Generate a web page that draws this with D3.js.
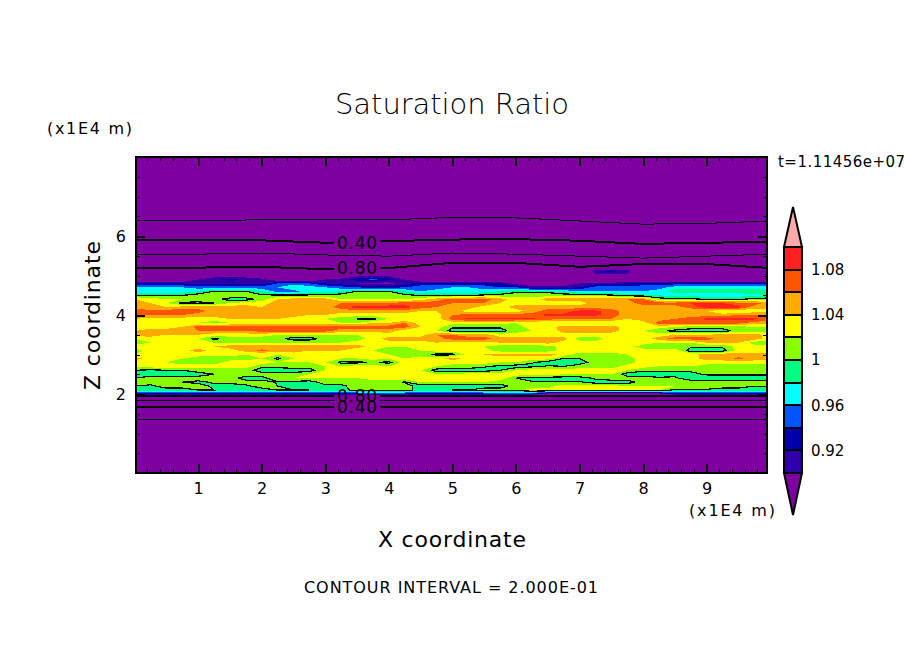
<!DOCTYPE html>
<html>
<head>
<meta charset="utf-8">
<title>Saturation Ratio</title>
<script src="https://cdn.jsdelivr.net/npm/d3@7"></script>
<style>
    html, body { margin: 0; padding: 0; background: #fff; overflow: hidden; }
    text { font-family: "DejaVu Sans", sans-serif; fill: #000; }
</style>
</head>
<body>
<svg id="chart"></svg>
<script>
// field grid: x in 1E4 m every 0.25, z in 1E4 m every 0.1, top row first
var fieldX = d3.range(41).map(function(k) { return k * 0.25; });
var fieldZ = [5.1, 5.0, 4.9, 4.8, 4.7, 4.6, 4.5, 4.4, 4.3, 4.2, 4.1, 4.0, 3.9, 3.8, 3.7, 3.6, 3.5,
    3.4, 3.3, 3.2, 3.1, 3.0, 2.9, 2.8, 2.7, 2.6, 2.5, 2.4, 2.3, 2.2, 2.1, 2.0, 1.9];
var satField = [
    [.85,.85,.85,.85,.85,.85,.85,.85,.85,.85, .85,.85,.85,.85,.85,.85,.85,.85,.85,.85, .85,.85,.85,.85,.85,.85,.85,.85,.85,.91, .925,.91,.85,.85,.85,.85,.85,.85,.85,.85,.85],
    [.85,.85,.85,.85,.86,.89,.89,.89,.86,.85, .85,.85,.85,.86,.89,.89,.89,.86,.85,.85, .85,.85,.85,.85,.85,.85,.85,.85,.85,.89, .89,.89,.85,.85,.85,.85,.85,.85,.85,.85,.85],
    [.86,.86,.86,.86,.90,.91,.93,.91,.91,.88, .86,.86,.90,.91,.93,.945,.93,.90,.86,.86, .86,.86,.86,.86,.86,.86,.86,.86,.86,.86, .86,.86,.86,.86,.86,.86,.86,.86,.86,.86,.86],
    [.92,.93,.93,.92,.91,.91,.91,.91,.91,.94, .95,.94,.92,.91,.90,.89,.89,.91,.93,.93, .93,.93,.93,.92,.89,.88,.88,.88,.90,.91, .91,.92,.93,.93,.93,.93,.93,.93,.93,.93,.93],
    [.96,.96,.96,.96,.95,.95,.95,.95,.95,.96, .985,.97,.96,.95,.94,.93,.93,.94,.95,.95, .96,.96,.95,.94,.94,.91,.91,.91,.92,.95, .95,.95,.95,.95,.97,.97,.97,.97,.97,.97,.97],
    [.97,.97,.97,.97,.98,1.0,1.0,1.0,.98,.95, .95,.97,.97,.98,1.0,1.0,1.0,.98,.96,.97, .97,.97,.97,.98,.995,.995,.995,.98,.96,.96, .96,.96,.96,.97,.99,.99,.99,.99,.99,.99,.985],
    [.998,.998,.998,.999,1.01,1.02,1.02,1.02,1.003,1.003, 1.003,1.003,1.003,1.01,1.01,1.01,1.01,1.005,.998,.998, .997,.997,1.003,1.006,1.01,1.01,1.01,1.01,1.01,1.006, 1.003,.99,.985,.98,.97,.97,.97,.97,.97,.975,.98],
    [1.04,1.03,1.02,1.02,1.01,1.01,.99,.99,1.01,1.04, 1.05,1.05,1.05,1.02,1.02,1.02,1.02,1.02,1.03,1.05, 1.07,1.07,1.07,1.05,1.03,1.03,1.05,1.05,1.05,1.06, 1.06,1.06,1.06,1.01,1.005,1.005,.998,.998,.998,1.005,1.01],
    [1.05,1.04,1.02,.995,.995,1.0,1.02,1.03,1.03,1.05, 1.05,1.05,1.05,1.06,1.06,1.065,1.065,1.07,1.07,1.07, 1.06,1.06,1.06,1.04,1.03,1.03,1.03,1.03,1.03,1.05, 1.05,1.05,1.07,1.07,1.07,1.08,1.08,1.08,1.07,1.07,1.05],
    [1.05,1.04,1.04,1.05,1.05,1.05,1.05,1.05,1.04,1.04, 1.04,1.04,1.05,1.07,1.09,1.09,1.09,1.09,1.07,1.06, 1.05,1.05,1.03,1.03,1.05,1.05,1.05,1.05,1.05,1.05, 1.05,1.05,1.05,1.05,1.05,1.07,1.09,1.09,1.09,1.05,1.05],
    [1.07,1.07,1.07,1.07,1.07,1.05,1.05,1.05,1.05,1.05, 1.05,1.05,1.05,1.05,1.05,1.05,1.05,1.05,1.04,1.04, 1.05,1.03,1.03,1.03,1.03,1.05,1.07,1.07,1.085,1.085, 1.07,1.05,1.05,1.05,1.05,1.04,1.04,1.02,1.02,1.03,1.03],
    [1.06,1.06,1.06,1.06,1.05,1.05,1.05,1.05,1.05,1.05, 1.05,1.04,1.04,1.03,1.03,1.03,1.03,1.03,1.03,1.03, 1.06,1.07,1.07,1.07,1.07,1.07,1.085,1.085,1.085,1.085, 1.07,1.05,1.05,1.05,1.05,1.05,1.05,1.05,1.06,1.06,1.06],
    [1.04,1.03,1.03,1.03,1.03,1.03,1.04,1.04,1.04,1.04, 1.03,1.03,1.02,1.01,1.0,.995,1.02,1.02,1.03,1.03, 1.07,1.085,1.085,1.085,1.085,1.085,1.07,1.06,1.06,1.06, 1.06,1.04,1.05,1.05,1.06,1.07,1.085,1.085,1.085,1.085,1.07],
    [1.03,1.03,1.03,1.03,1.02,1.01,1.02,1.03,1.03,1.03, 1.03,1.03,1.03,1.02,1.02,1.04,1.04,1.06,1.03,1.03, 1.03,1.03,1.03,1.03,1.02,1.02,1.02,1.02,1.02,1.02, 1.02,1.03,1.03,1.07,1.07,1.07,1.07,1.07,1.07,1.05,1.05],
    [1.03,1.03,1.03,1.04,1.07,1.07,1.07,1.07,1.07,1.07, 1.07,1.07,1.07,1.07,1.07,1.07,1.07,1.07,1.04,1.03, 1.003,1.003,1.003,1.003,1.01,1.03,1.03,1.05,1.05,1.05, 1.05,1.03,1.03,1.03,1.02,1.01,1.01,1.01,1.01,1.02,1.02],
    [1.04,1.05,1.05,1.05,1.06,1.06,1.06,1.06,1.07,1.07, 1.07,1.07,1.07,1.05,1.05,1.05,1.05,1.03,1.03,1.02, .992,.992,.992,.992,1.01,1.02,1.02,1.05,1.05,1.05, 1.05,1.03,1.02,1.005,.995,.99,.99,.99,1.01,1.01,1.01],
    [1.05,1.05,1.04,1.04,1.04,1.03,1.03,1.03,1.03,1.02, 1.02,1.02,1.02,1.02,1.02,1.02,1.03,1.03,1.03,1.06, 1.06,1.05,1.05,1.03,1.03,1.02,1.03,1.03,1.03,1.03, 1.03,1.03,1.03,1.03,1.04,1.04,1.04,1.05,1.05,1.05,1.03],
    [1.02,1.03,1.03,1.02,1.02,.995,1.01,1.01,1.01,1.01, .99,.99,1.01,1.01,1.01,1.03,1.05,1.05,1.05,1.05, 1.07,1.07,1.07,1.05,1.05,1.05,1.05,1.05,1.01,1.01, 1.03,1.03,1.03,1.05,1.07,1.07,1.07,1.05,1.05,1.05,1.03],
    [1.01,1.02,1.02,1.02,1.02,1.02,1.02,1.02,1.02,1.02, 1.02,1.02,1.02,1.02,1.03,1.03,1.03,1.03,1.03,1.04, 1.03,1.03,1.03,1.04,1.04,1.04,1.05,1.03,1.03,1.03, 1.03,1.03,1.03,1.02,1.02,1.02,1.04,1.04,1.04,1.01,1.01],
    [1.03,1.03,1.03,1.03,1.03,1.04,1.05,1.05,1.05,1.05, 1.05,1.05,1.05,1.05,1.05,1.03,1.02,1.02,1.03,1.03, 1.02,1.02,1.02,1.01,1.01,1.01,1.01,1.03,1.03,1.03, 1.03,1.03,1.01,1.01,1.01,1.003,1.003,1.003,1.03,1.03,1.03],
    [1.01,1.03,1.03,1.03,1.05,1.03,1.03,1.05,1.065,1.05, 1.05,1.04,1.04,1.04,1.02,1.02,1.01,1.01,1.02,1.03, 1.03,1.03,1.03,1.01,1.01,1.01,1.01,1.03,1.03,1.03, 1.03,1.03,1.03,1.03,1.03,.99,.99,.99,1.03,1.03,1.03],
    [1.02,1.03,1.03,1.03,1.03,1.03,1.03,1.02,1.02,1.02, 1.03,1.03,1.03,1.03,1.03,1.02,1.02,1.01,1.01,.995, .995,1.03,1.04,1.05,1.05,1.05,1.05,1.03,1.01,1.01, 1.01,1.02,1.02,1.02,1.03,1.03,1.05,1.05,1.05,1.05,1.05],
    [1.05,1.03,1.02,1.02,1.01,1.01,1.01,1.01,1.02,.995, 1.02,1.02,1.02,1.02,1.02,1.03,1.02,1.02,1.03,1.03, 1.05,1.03,1.03,1.03,1.03,1.03,1.03,1.0,1.0,1.01, 1.01,1.01,1.03,1.03,1.03,1.03,1.05,1.05,1.065,1.05,1.05],
    [1.03,1.02,1.02,1.01,1.01,1.01,1.03,1.03,1.03,1.02, 1.02,1.02,1.02,.995,.995,1.003,.995,1.03,1.03,1.03, 1.03,1.03,1.03,1.02,1.02,1.002,.99,.99,.99,1.01, 1.01,1.01,1.03,1.03,1.03,1.03,1.03,1.03,1.03,1.03,1.03],
    [1.02,1.03,1.03,1.03,1.03,1.03,1.03,1.03,1.005,1.005, 1.01,1.01,1.02,1.02,1.03,1.03,1.02,1.03,1.03,1.02, 1.01,1.01,1.003,.995,.99,.995,1.002,1.0,1.01,1.01, 1.01,1.03,1.03,1.02,1.02,1.02,1.01,1.01,1.0,1.01,1.01],
    [1.0,.995,1.0,1.0,1.01,1.01,1.01,1.01,.99,.99, .99,.99,1.02,1.02,1.02,1.02,1.02,1.02,1.02,.99, .99,.99,.99,1.0,1.02,1.03,1.03,1.03,1.03,1.03, 1.03,1.02,1.003,1.003,1.003,1.003,1.003,1.01,1.01,1.01,1.01],
    [.99,.99,.99,.99,.99,1.0,1.0,1.01,1.01,1.01, 1.01,1.02,1.02,1.02,1.02,1.02,1.02,1.02,1.02,1.02, 1.02,1.03,1.03,1.03,1.03,1.03,1.03,1.02,1.02,1.02, 1.02,.99,.99,.99,.995,.995,1.002,1.002,1.002,1.002,1.002],
    [1.0,1.01,1.01,1.01,1.01,1.01,1.01,.99,.99,1.02, 1.02,1.02,1.02,1.02,1.02,1.03,1.03,1.03,1.03,1.03, 1.03,1.03,1.03,1.03,1.0,.99,.99,.99,.99,1.003, 1.01,1.01,1.01,1.003,1.003,.99,.99,.99,.99,.99,.99],
    [1.01,1.01,1.01,1.0,.995,1.003,1.003,1.01,1.01,.998, .995,.99,1.01,1.01,1.01,1.01,1.01,.998,1.02,1.02, 1.02,1.02,1.02,1.01,1.003,1.003,1.003,1.003,1.003,.99, .99,.99,1.01,1.01,1.003,1.01,1.01,1.01,1.01,1.01,1.01],
    [1.0,.995,1.01,1.01,1.01,.995,.995,.995,1.01,1.0, .995,.995,.995,.995,1.01,1.01,1.01,1.01,.99,.99, .99,.99,.99,.99,1.01,1.01,1.01,1.03,1.03,1.03, 1.03,1.02,1.02,1.02,1.02,1.02,1.02,1.01,1.01,1.0,1.0],
    [.99,.99,.99,.99,1.0,1.0,.995,.995,.99,1.0, 1.0,1.0,.99,.99,1.01,1.01,1.01,1.01,.99,.99, 1.0,1.0,1.01,1.01,1.01,1.03,1.03,1.03,1.03,1.03, 1.03,1.03,1.02,1.02,.995,.995,.995,.99,.99,.99,.99],
    [.93,.93,.93,.93,.93,.93,.93,.93,.93,.93, .93,.93,.93,.93,.93,.93,.93,.93,.93,.93, .93,.93,.93,.93,.93,.93,.88,.88,.88,.88, .88,.88,.88,.88,.93,.93,.93,.93,.93,.93,.93],
    [.75,.75,.75,.75,.75,.75,.75,.75,.75,.75, .75,.75,.75,.75,.75,.75,.75,.75,.75,.75, .75,.75,.75,.75,.75,.75,.75,.75,.75,.75, .75,.75,.75,.75,.75,.75,.75,.75,.75,.75,.75]
];

// colour bands: lower edge of each band, and the colour above it
var bandEdges = [0.90, 0.92, 0.94, 0.96, 0.98, 1.00, 1.02, 1.04, 1.06, 1.08];
var bandColors = ['#2e00a8', '#0000aa', '#0055ff', '#00ffff', '#00ff80', '#88ff00', '#ffff00', '#ffaa00', '#ff5500', '#ff2020'];
var underColor = '#7f00a0', overColor = '#ffaaaa';
var colorbarTicks = [0.92, 0.96, 1, 1.04, 1.08];

// the labelled contour lines outside the cloud layer, z read at x = 0..10
var lineX = [0, 1, 2, 3, 4, 5, 6, 7, 8, 9, 10];
var upper02 = [6.39, 6.39, 6.41, 6.41, 6.41, 6.47, 6.46, 6.38, 6.30, 6.32, 6.38];
var upper04 = [5.90, 5.90, 5.89, 5.83, 5.87, 5.91, 5.92, 5.88, 5.80, 5.83, 5.85];
var upper06 = [5.52, 5.54, 5.57, 5.52, 5.49, 5.57, 5.54, 5.49, 5.44, 5.49, 5.54];
var upper08 = [5.18, 5.20, 5.22, 5.16, 5.19, 5.32, 5.32, 5.22, 5.29, 5.29, 5.19];
var lower08 = [1.95, 1.95, 1.95, 1.95, 1.95, 1.95, 1.95, 1.95, 1.95, 1.95, 1.95];
var lower06 = [1.83, 1.83, 1.83, 1.83, 1.83, 1.83, 1.83, 1.83, 1.83, 1.83, 1.83];
var lower04 = [1.67, 1.67, 1.67, 1.67, 1.67, 1.67, 1.67, 1.67, 1.67, 1.67, 1.67];
var lower02 = [1.35, 1.35, 1.35, 1.35, 1.35, 1.35, 1.35, 1.35, 1.35, 1.35, 1.35];
var contourLabels = [['0.40', 3.5, 5.82], ['0.80', 3.5, 5.19], ['0.80', 3.5, 1.95], ['0.40', 3.5, 1.67]];

var xTicks = [1, 2, 3, 4, 5, 6, 7, 8, 9];
var xMinorTicks = d3.range(1, 50).map(function(d) { return d / 5; });
var zTicks = [2, 4, 6];
var zMinorTicks = d3.range(1, 16).map(function(d) { return d / 2; });

// svg的宽高
var svgWidth = 904, svgHeight = 654;
var padding = {left: 136, right: 137, top: 157, bottom: 181};
var svg = d3.select('#chart').attr('width', svgWidth).attr('height', svgHeight);

var x = d3.scaleLinear().domain([0.022, 9.95]).range([padding.left, svgWidth - padding.right]);
var z = d3.scaleLinear().domain([0, 8]).range([svgHeight - padding.bottom, padding.top]);

svg.append('clipPath').attr('id', 'plot-clip').append('rect')
    .attr('x', x.range()[0])
    .attr('y', z.range()[1])
    .attr('width', x.range()[1] - x.range()[0])
    .attr('height', z.range()[0] - z.range()[1]);

var plot = svg.append('g').attr('clip-path', 'url(#plot-clip)');
plot.append('rect')
    .attr('x', x.range()[0])
    .attr('y', z.range()[1])
    .attr('width', x.range()[1] - x.range()[0])
    .attr('height', z.range()[0] - z.range()[1])
    .attr('fill', underColor);

// 等值线
var contours = d3.contours().size([fieldX.length, fieldZ.length]);
var gridPath = d3.geoPath(d3.geoTransform({
    point: function(gx, gy) {
        var dataX = fieldX[0] + (gx - 0.5) * (fieldX[1] - fieldX[0]);
        var dataZ = fieldZ[0] + (gy - 0.5) * (fieldZ[1] - fieldZ[0]);
        this.stream.point(x(dataX), z(dataZ));
    }
}));
var flatField = satField.reduce(function(all, row) { return all.concat(row); }, []);

bandEdges.forEach(function(edge, i) {
    plot.append('path')
        .attr('d', gridPath(contours.contour(flatField, edge)))
        .attr('fill', bandColors[i])
        .attr('shape-rendering', 'crispEdges');
});
// the 1.0 level is the only contour interval that shows inside the layer
plot.append('path')
    .attr('d', gridPath(contours.contour(flatField, 1.0)))
    .attr('fill', 'none')
    .attr('stroke', '#000')
    .attr('stroke-width', 1.2)
    .attr('shape-rendering', 'crispEdges');

var line = d3.line()
    .x(function(d, i) { return x(lineX[i]); })
    .y(function(d) { return z(d); });
[[upper02, 1], [upper04, 2], [upper06, 1], [upper08, 2], [lower08, 2], [lower06, 1], [lower04, 2], [lower02, 1]].forEach(function(item) {
    plot.append('path')
        .attr('d', line(item[0]))
        .attr('fill', 'none')
        .attr('stroke', '#000')
        .attr('stroke-width', item[1])
        .attr('shape-rendering', 'crispEdges');
});

// 线上的标签
var labels = plot.selectAll('.line-label')
    .data(contourLabels)
    .enter()
    .append('g')
    .attr('class', 'line-label')
    .attr('transform', function(d) { return 'translate(' + x(d[1]) + ',' + z(d[2]) + ')'; });
labels.append('rect')
    .attr('x', -23)
    .attr('y', function(d, i) { return i === 2 ? -1 : -4; })
    .attr('width', 46)
    .attr('height', function(d, i) { return i === 2 ? 7 : 8; })
    .attr('fill', underColor);
labels.append('text')
    .attr('text-anchor', 'middle')
    .attr('y', 6)
    .attr('font-size', 17)
    .attr('textLength', 40)
    .text(function(d) { return d[0]; });

// 边框
svg.append('rect')
    .attr('x', x.range()[0])
    .attr('y', z.range()[1])
    .attr('width', x.range()[1] - x.range()[0])
    .attr('height', z.range()[0] - z.range()[1])
    .attr('fill', 'none')
    .attr('stroke', '#000')
    .attr('stroke-width', 2)
    .attr('shape-rendering', 'crispEdges');

function addAxis(axis, tx, ty, width) {
    var g = svg.append('g')
        .attr('transform', 'translate(' + tx + ',' + ty + ')')
        .call(axis);
    g.select('.domain').remove();
    g.selectAll('line').attr('stroke-width', width).attr('shape-rendering', 'crispEdges');
    g.selectAll('text').attr('font-family', '"DejaVu Sans", sans-serif').attr('font-size', 16);
    return g;
}
var noLabel = function() { return ''; };
var bottomY = z.range()[0], topY = z.range()[1], leftX = x.range()[0], rightX = x.range()[1];
// x轴
addAxis(d3.axisBottom(x).tickValues(xMinorTicks).tickFormat(noLabel).tickSize(-4).tickSizeOuter(0), 0, bottomY, 1);
addAxis(d3.axisTop(x).tickValues(xMinorTicks).tickFormat(noLabel).tickSize(-4).tickSizeOuter(0), 0, topY, 1);
addAxis(d3.axisBottom(x).tickValues(xTicks).tickFormat(d3.format('d')).tickSize(-9).tickPadding(10).tickSizeOuter(0), 0, bottomY, 2);
addAxis(d3.axisTop(x).tickValues(xTicks).tickFormat(noLabel).tickSize(-9).tickSizeOuter(0), 0, topY, 2);
// y轴
addAxis(d3.axisLeft(z).tickValues(zMinorTicks).tickFormat(noLabel).tickSize(-4).tickSizeOuter(0), leftX, 0, 1);
addAxis(d3.axisRight(z).tickValues(zMinorTicks).tickFormat(noLabel).tickSize(-4).tickSizeOuter(0), rightX, 0, 1);
addAxis(d3.axisLeft(z).tickValues(zTicks).tickFormat(d3.format('d')).tickSize(-9).tickPadding(10).tickSizeOuter(0), leftX, 0, 2);
addAxis(d3.axisRight(z).tickValues(zTicks).tickFormat(noLabel).tickSize(-9).tickSizeOuter(0), rightX, 0, 2);

// 文字
function addText(str, tx, ty, size, length, anchor) {
    return svg.append('text')
        .attr('x', tx)
        .attr('y', ty)
        .attr('font-size', size)
        .attr('text-anchor', anchor || 'start')
        .attr('textLength', length)
        .text(str);
}
addText('Saturation Ratio', 335, 114, 29, 234).attr('font-weight', 200);
addText('(x1E4 m)', 47, 134, 16, 85);
addText('(x1E4 m)', 689, 516, 16, 86);
addText('X coordinate', 378, 547, 22, 148);
addText('Z coordinate', 0, 0, 22, 149)
    .attr('transform', 'translate(100,390) rotate(-90)');
addText('CONTOUR INTERVAL = 2.000E-01', 304, 593, 16, 294);
addText('t=1.11456e+07', 778, 167, 15, 127);

// 色标
var barX = 784, barWidth = 18, barTip = 39;
var barScale = d3.scaleLinear().domain([0.90, 1.10]).range([bottomY, 247]);
var bar = svg.append('g').attr('shape-rendering', 'crispEdges');
bar.selectAll('rect')
    .data(bandEdges)
    .enter()
    .append('rect')
    .attr('x', barX)
    .attr('y', function(d) { return barScale(d + 0.02); })
    .attr('width', barWidth)
    .attr('height', function(d) { return barScale(d) - barScale(d + 0.02); })
    .attr('fill', function(d, i) { return bandColors[i]; })
    .attr('stroke', '#000')
    .attr('stroke-width', 2);
var tipPath = function(baseY, tipY) {
    return 'M' + barX + ',' + baseY + 'L' + (barX + barWidth / 2) + ',' + tipY + 'L' + (barX + barWidth) + ',' + baseY + 'Z';
};
svg.append('path')
    .attr('d', tipPath(barScale(1.10), barScale(1.10) - barTip - 1))
    .attr('fill', overColor)
    .attr('stroke', '#000')
    .attr('stroke-width', 2);
svg.append('path')
    .attr('d', tipPath(barScale(0.90), barScale(0.90) + barTip + 3))
    .attr('fill', underColor)
    .attr('stroke', '#000')
    .attr('stroke-width', 2);
var barAxis = d3.axisRight(barScale)
    .tickValues(colorbarTicks)
    .tickFormat(function(d) { return String(d); })
    .tickSize(0)
    .tickPadding(9);
var barG = addAxis(barAxis, barX + barWidth, 0, 0);
barG.selectAll('text').attr('font-size', 15);
</script>
</body>
</html>
